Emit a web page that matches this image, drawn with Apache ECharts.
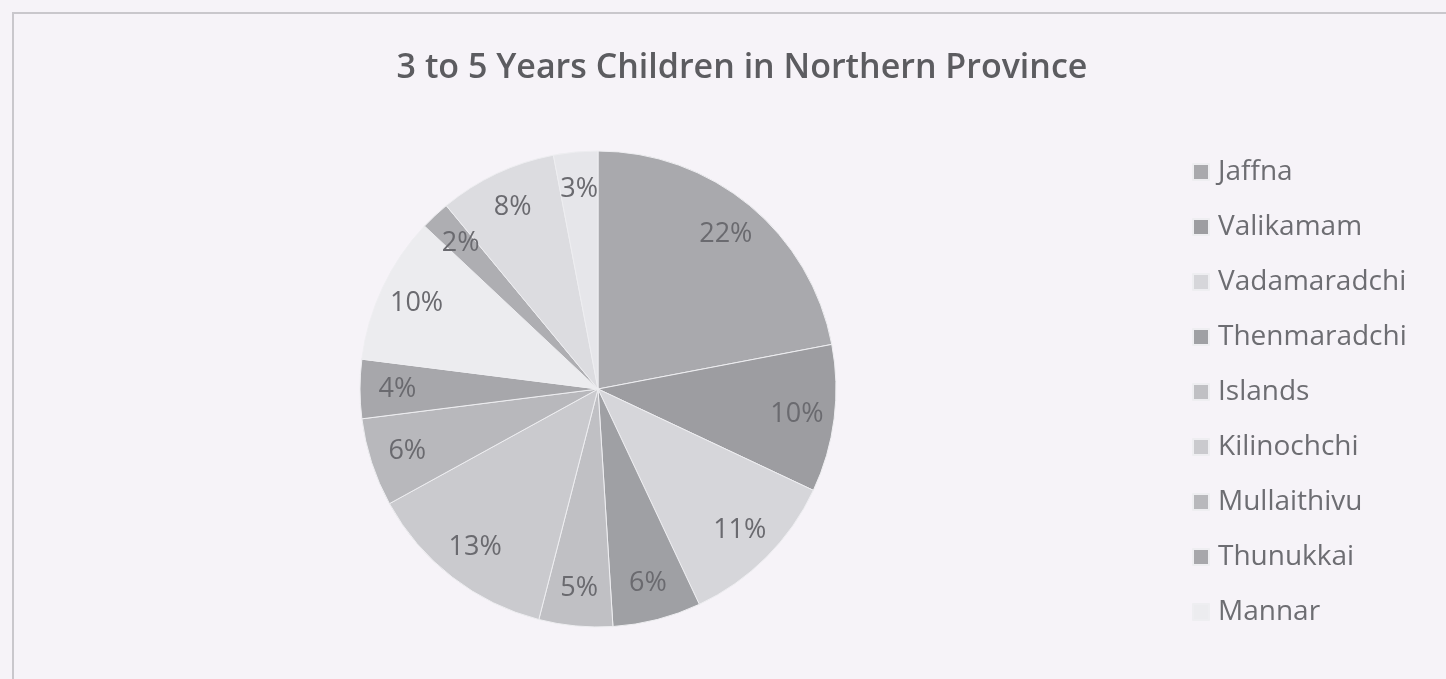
<!DOCTYPE html>
<html>
<head>
<meta charset="utf-8">
<script src="https://cdn.jsdelivr.net/npm/echarts@6/dist/echarts.min.js"></script>
<style>
  html, body { margin: 0; padding: 0; background: #f6f3f8; }
  #chart { width: 1446px; height: 679px; }
</style>
</head>
<body>
<div id="chart"></div>
<script>
const titleText = '3 to 5 Years Children in Northern Province';
const zones = ['Jaffna', 'Valikamam', 'Vadamaradchi', 'Thenmaradchi', 'Islands', 'Kilinochchi',
               'Mullaithivu', 'Thunukkai', 'Mannar', 'Madhu', 'Vavuniya North', 'Vavuniya South'];
const shares = [22, 10, 11, 6, 5, 13, 6, 4, 10, 2, 8, 3];
const legendShown = zones.slice(0, 9);
const sliceColors = ['#a9a9ad', '#9d9da1', '#d6d6da', '#9fa0a4', '#c0c0c4', '#cacace',
                     '#b8b8bc', '#a7a7ab', '#ececef', '#aeaeb2', '#dcdce0', '#e6e6ea'];

const pieData = zones.map((n, i) => ({ name: n, value: shares[i] }));
const FONT = '"Open Sans", "Noto Sans", sans-serif';

const chart = echarts.init(document.getElementById('chart'), null, { renderer: 'canvas' });
chart.setOption({
  backgroundColor: '#f6f3f8',
  color: sliceColors,
  animation: false,
  graphic: [{
    type: 'rect',
    silent: true,
    shape: { x: 13, y: 13, width: 1460, height: 700 },
    style: { fill: 'none', stroke: '#c9c7cc', lineWidth: 2 }
  }],
  title: {
    text: titleText,
    left: 737,
    top: 46,
    textAlign: 'center',
    textStyle: { fontFamily: FONT, fontSize: 34, fontWeight: 600, color: '#5c5c60' }
  },
  legend: {
    data: legendShown,
    orient: 'vertical',
    left: 1187,
    top: 153,
    itemWidth: 16,
    itemHeight: 16,
    itemGap: 27,
    icon: 'rect',
    selectedMode: false,
    textStyle: { fontFamily: FONT, fontSize: 28, lineHeight: 28, color: '#6d6d72', padding: [0, 0, 0, 4] }
  },
  series: [{
    type: 'pie',
    center: [598, 389],
    radius: [0, 238],
    startAngle: 90,
    clockwise: true,
    label: { show: false },
    labelLine: { show: false },
    itemStyle: { borderColor: '#eeeef1', borderWidth: 1 },
    emphasis: { disabled: true },
    data: pieData
  }, {
    type: 'pie',
    center: [598, 389],
    radius: [167, 228],
    startAngle: 90,
    clockwise: true,
    silent: true,
    itemStyle: { color: 'transparent', borderWidth: 0 },
    label: {
      show: true,
      position: 'inside',
      formatter: '{d}%',
      fontFamily: FONT,
      fontSize: 27,
      color: '#6a6a6f'
    },
    labelLine: { show: false },
    emphasis: { disabled: true },
    data: pieData
  }]
});
</script>
</body>
</html>
